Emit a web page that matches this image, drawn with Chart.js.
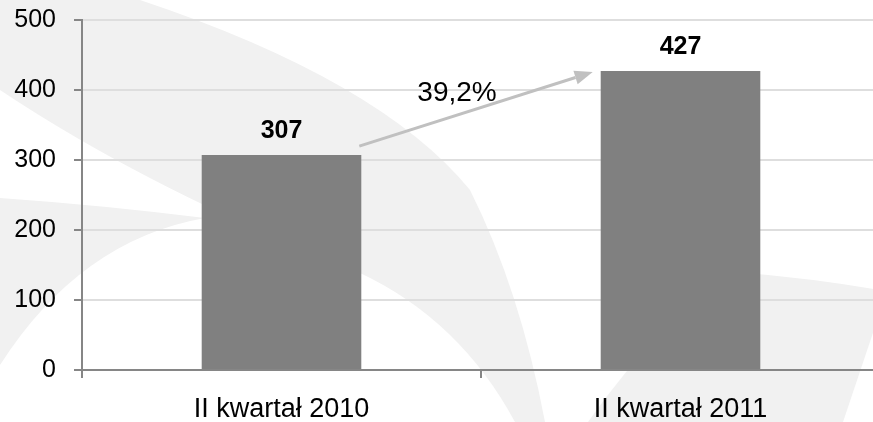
<!DOCTYPE html>
<html>
<head>
<meta charset="utf-8">
<script src="https://cdn.jsdelivr.net/npm/chart.js@4.4.1/dist/chart.umd.min.js"></script>
<style>
  html, body { margin: 0; padding: 0; background: #fff; overflow: hidden; }
  #wrap { width: 880px; height: 422px; }
</style>
</head>
<body>
<div id="wrap"><canvas id="growthChart"></canvas></div>
<script>
const categories = ['II kwartał 2010', 'II kwartał 2011'];
const values = [307, 427];
const growthLabel = '39,2%';
const yMin = 0;
const yMax = 500;
const yStep = 100;

const FONT = "'Liberation Sans', Arial, sans-serif";

// faint grey swooshes in the background
const watermark = {
  id: 'watermark',
  beforeDraw(chart) {
    const c = chart.ctx;
    c.save();
    c.fillStyle = '#fff';
    c.fillRect(0, 0, chart.width, chart.height);
    c.fillStyle = '#f1f1f1';

    c.beginPath();
    c.moveTo(0, 0);
    c.lineTo(140, 0);
    c.quadraticCurveTo(380, 80, 470, 190);
    c.quadraticCurveTo(520, 290, 545, 422);
    c.lineTo(515, 422);
    c.quadraticCurveTo(460, 320, 360, 273);
    c.quadraticCurveTo(150, 190, 0, 90);
    c.closePath();
    c.fill();

    c.beginPath();
    c.moveTo(0, 198);
    c.quadraticCurveTo(100, 205, 205, 218);
    c.quadraticCurveTo(80, 240, 0, 365);
    c.closePath();
    c.fill();

    c.beginPath();
    c.moveTo(588, 422);
    c.quadraticCurveTo(660, 320, 735, 272);
    c.quadraticCurveTo(810, 278, 880, 290);
    c.lineTo(880, 312);
    c.lineTo(843, 422);
    c.closePath();
    c.fill();
    c.restore();
  }
};

// value labels + growth arrow
const annotations = {
  id: 'annotations',
  afterDatasetsDraw(chart) {
    const c = chart.ctx;
    const bars = chart.getDatasetMeta(0).data;
    c.save();
    c.fillStyle = '#000';
    c.font = 'bold 25px ' + FONT;
    c.textAlign = 'center';
    c.textBaseline = 'alphabetic';
    bars.forEach((b, i) => {
      c.fillText(String(values[i]), b.x, b.y - 17);
    });

    const b1 = bars[0], b2 = bars[1];
    const x1 = b1.x + b1.width / 2 - 2, y1 = b1.y - 9;
    const x2 = b2.x - b2.width / 2 - 8, y2 = b2.y + 1;
    const ang = Math.atan2(y2 - y1, x2 - x1);
    const head = 18, half = 7;
    c.strokeStyle = '#c0c0c0';
    c.fillStyle = '#c0c0c0';
    c.lineWidth = 3;
    c.beginPath();
    c.moveTo(x1, y1);
    c.lineTo(x2 - head * Math.cos(ang), y2 - head * Math.sin(ang));
    c.stroke();
    c.beginPath();
    c.moveTo(x2, y2);
    c.lineTo(x2 - head * Math.cos(ang) + half * Math.sin(ang), y2 - head * Math.sin(ang) - half * Math.cos(ang));
    c.lineTo(x2 - head * Math.cos(ang) - half * Math.sin(ang), y2 - head * Math.sin(ang) + half * Math.cos(ang));
    c.closePath();
    c.fill();

    c.fillStyle = '#000';
    c.font = '28px ' + FONT;
    c.textBaseline = 'middle';
    c.fillText(growthLabel, (x1 + x2) / 2 - 19, (y1 + y2) / 2 - 16);
    c.restore();
  }
};

new Chart(document.getElementById('growthChart').getContext('2d'), {
  type: 'bar',
  data: {
    labels: categories,
    datasets: [{
      data: values,
      backgroundColor: '#808080',
      borderWidth: 0,
      barPercentage: 0.4,
      categoryPercentage: 1
    }]
  },
  options: {
    responsive: true,
    maintainAspectRatio: false,
    animation: false,
    layout: { padding: { left: 0, top: 20, right: 0, bottom: 0 } },
    plugins: {
      legend: { display: false },
      tooltip: { enabled: false }
    },
    scales: {
      x: {
        afterFit(s) { s.height = 52; s.paddingLeft = 0; s.paddingRight = 0; },
        grid: {
          offset: true,
          drawOnChartArea: false,
          drawTicks: true,
          tickLength: 8,
          lineWidth: 2,
          tickColor: '#868686'
        },
        border: { color: '#868686', width: 2 },
        ticks: {
          color: '#000',
          padding: 15,
          font: { family: FONT, size: 27 }
        }
      },
      y: {
        min: yMin,
        max: yMax,
        afterFit(s) { s.width = 82; s.paddingTop = 0; s.paddingBottom = 0; },
        grid: {
          color: '#dedede',
          lineWidth: 2,
          tickLength: 8,
          tickColor: '#868686'
        },
        border: { color: '#868686', width: 2 },
        ticks: {
          stepSize: yStep,
          color: '#000',
          padding: 18,
          font: { family: FONT, size: 25 }
        }
      }
    }
  },
  plugins: [watermark, annotations]
});
</script>
</body>
</html>
